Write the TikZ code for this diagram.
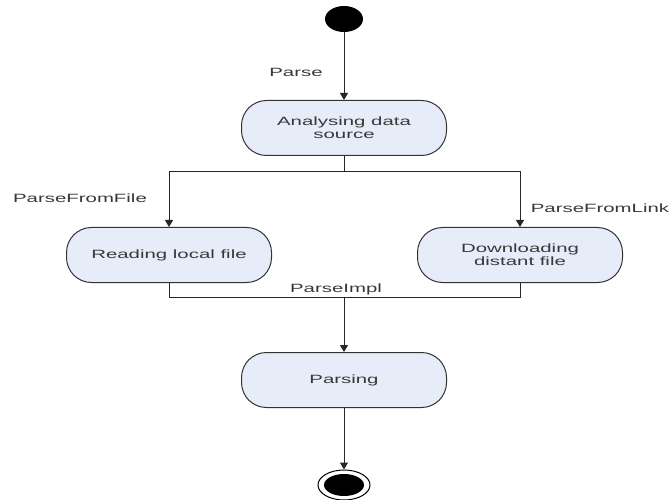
\documentclass[tikz,border=0pt]{standalone}
\usepackage{fontspec}
\setmainfont{Liberation Sans}[FakeStretch=1.7]
\usetikzlibrary{arrows.meta,shapes.geometric}
\definecolor{boxfill}{HTML}{E6ECF8}
\definecolor{boxline}{HTML}{333333}
\definecolor{txt}{HTML}{383838}
\begin{document}
\begin{tikzpicture}[x=1pt,y=-1pt,
  state/.style={draw=boxline, line width=1pt, fill=boxfill, rounded corners=25pt,
    minimum width=205pt, minimum height=55pt, align=center, text=txt,
    font=\fontsize{12}{13}\selectfont},
  lbl/.style={text=txt, font=\fontsize{12}{13}\selectfont, inner sep=1pt},
  conn/.style={draw=black!85, line width=1pt},
  arr/.style={conn, -{Triangle[width=8pt,length=7pt]}}]
\useasboundingbox (0,0) rectangle (670,500);
\node[ellipse, fill=black, minimum width=38pt, minimum height=26pt, inner sep=0pt] (init) at (344,19) {};
\node[state] (ana) at (344,128) {Analysing data\\source};
\node[state] (read) at (169,255) {Reading local file};
\node[state] (down) at (520,255) {Downloading\\distant file};
\node[state] (pars) at (344,380) {Parsing};
\node[ellipse, draw=black, line width=1pt, fill=white, minimum width=52pt, minimum height=30pt, inner sep=0pt] (fin) at (344,485) {};
\node[ellipse, fill=black, minimum width=40pt, minimum height=22pt, inner sep=0pt] (finin) at (fin) {};
\coordinate (fork) at (344,172);
\coordinate (join) at (344,297);
\draw[arr] (init) -- (ana);
\draw[conn] (ana) -- (fork);
\draw[arr] (fork) -| (read.north);
\draw[arr] (fork) -| (down.north);
\draw[conn] (read.south) |- (join);
\draw[conn] (down.south) |- (join);
\draw[arr] (join) -- (pars.north);
\draw[arr] (pars) -- (fin);
\node[lbl] (lparse) at (296,72) {Parse};
\node[lbl] (lfile) at (80,198) {ParseFromFile};
\node[lbl] (llink) at (600,208) {ParseFromLink};
\node[lbl] (limpl) at (336,289) {ParseImpl};
\end{tikzpicture}
\end{document}
